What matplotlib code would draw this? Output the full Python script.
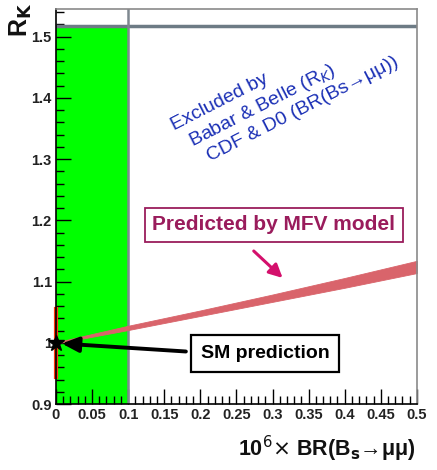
import matplotlib
matplotlib.use("Agg")
import matplotlib.pyplot as plt
from matplotlib.ticker import MultipleLocator

plt.rcParams["font.family"] = ["Liberation Sans", "DejaVu Sans"]

# excluded region (green) and frame limits
excl_x = [0.0, 0.1]
excl_top = 1.517
xlim = (0.0, 0.5)
ylim = (0.9, 1.545)

# MFV predicted band
band_x = [0.0, 0.1, 0.2, 0.3, 0.4, 0.5]
band_lo = [0.999, 1.021, 1.044, 1.067, 1.090, 1.114]
band_hi = [1.001, 1.028, 1.053, 1.079, 1.106, 1.134]

# SM prediction point and its uncertainty
sm_x, sm_y = 0.0, 1.0
sm_lo, sm_hi = 0.944, 1.055

# exclusion note, one entry per line
excl_lines = ["Excluded by", "Babar & Belle (R$_{K}$)", "CDF & D0 (BR(Bs→μμ))"]
excl_line_x = [0.164, 0.189, 0.213]
excl_line_y = [1.347, 1.321, 1.296]

fig = plt.figure(figsize=(4.37, 4.70), dpi=100)
ax = fig.add_axes([0.128, 0.140, 0.826, 0.841])

ax.fill_between(excl_x, ylim[0], excl_top, color="#00ff00", lw=0, zorder=1)
ax.axhline(excl_top, color="#6d7b85", lw=2.5, zorder=3)
ax.axvline(excl_x[1], color="#7f8890", lw=1.8, zorder=3)

ax.fill_between(band_x, band_lo, band_hi, color="#d9646b", lw=0.6, edgecolor="#d9646b", zorder=4)

ax.plot([sm_x, sm_x], [sm_lo, sm_hi], color="#ff3a10", lw=3, zorder=5, clip_on=False)
ax.plot([sm_x], [sm_y], marker="*", color="black", ms=12, zorder=6, clip_on=False)

ax.set_xlim(*xlim)
ax.set_ylim(*ylim)

ax.xaxis.set_major_locator(MultipleLocator(0.05))
ax.xaxis.set_minor_locator(MultipleLocator(0.01))
ax.yaxis.set_major_locator(MultipleLocator(0.1))
ax.yaxis.set_minor_locator(MultipleLocator(0.02))
ax.tick_params(which="both", direction="in", top=False, right=False, width=1.0, color="black")
ax.tick_params(which="major", length=11, labelsize=10.5, pad=3)
ax.tick_params(which="minor", length=5.5)
ax.set_xticks([0, 0.05, 0.1, 0.15, 0.2, 0.25, 0.3, 0.35, 0.4, 0.45, 0.5])
ax.set_xticklabels(["0", "0.05", "0.1", "0.15", "0.2", "0.25", "0.3", "0.35", "0.4", "0.45", "0.5"])
ax.set_yticks([0.9, 1.0, 1.1, 1.2, 1.3, 1.4, 1.5])
ax.set_yticklabels(["0.9", "1", "1.1", "1.2", "1.3", "1.4", "1.5"])
for lab in ax.get_xticklabels() + ax.get_yticklabels():
    lab.set_fontweight("bold")
    lab.set_color("#222222")

for side in ["top", "right"]:
    ax.spines[side].set_color("#8a8a8a")
for side in ["left", "bottom"]:
    ax.spines[side].set_color("black")
for s in ax.spines.values():
    s.set_linewidth(1.2)
    s.set_zorder(7)

fig.text(0.952, 0.045, "10$^{6}$$\\times$ BR(B$_{\\mathbf{s}}$→μμ)",
         ha="right", va="center", fontsize=15.5, fontweight="bold", color="#111111")
fig.text(0.047, 0.957, r"R$_{\mathbf{K}}$", rotation=90, ha="center", va="center",
         fontsize=18, fontweight="bold", color="#111111")

for txt, tx, ty in zip(excl_lines, excl_line_x, excl_line_y):
    ax.text(tx, ty, txt, rotation=27, rotation_mode="anchor", ha="left", va="baseline",
            fontsize=14, color="#1a2fb5", zorder=8)

ax.text(0.302, 1.193, "Predicted by MFV model",
        ha="center", va="center", fontsize=15, fontweight="bold", color="#9a1c5c",
        bbox=dict(boxstyle="square,pad=0.36", fc="white", ec="#9a1c5c", lw=1.3),
        zorder=8)
ax.annotate("", xy=(0.314, 1.106), xytext=(0.274, 1.150),
            arrowprops=dict(arrowstyle="-|>,head_length=0.8,head_width=0.4", color="#d4106c",
                            lw=2.2, shrinkA=0, shrinkB=0),
            zorder=8)

ax.text(0.2896, 0.9825, "SM prediction",
        ha="center", va="center", fontsize=14, fontweight="bold", color="black",
        bbox=dict(boxstyle="square,pad=0.5", fc="white", ec="black", lw=1.6),
        zorder=8)
ax.annotate("", xy=(0.008, 0.999), xytext=(0.180, 0.986),
            arrowprops=dict(arrowstyle="-|>,head_length=1.0,head_width=0.45", color="black",
                            lw=2.8, shrinkA=0, shrinkB=0),
            zorder=8)

fig.savefig("out.png", dpi=100)
